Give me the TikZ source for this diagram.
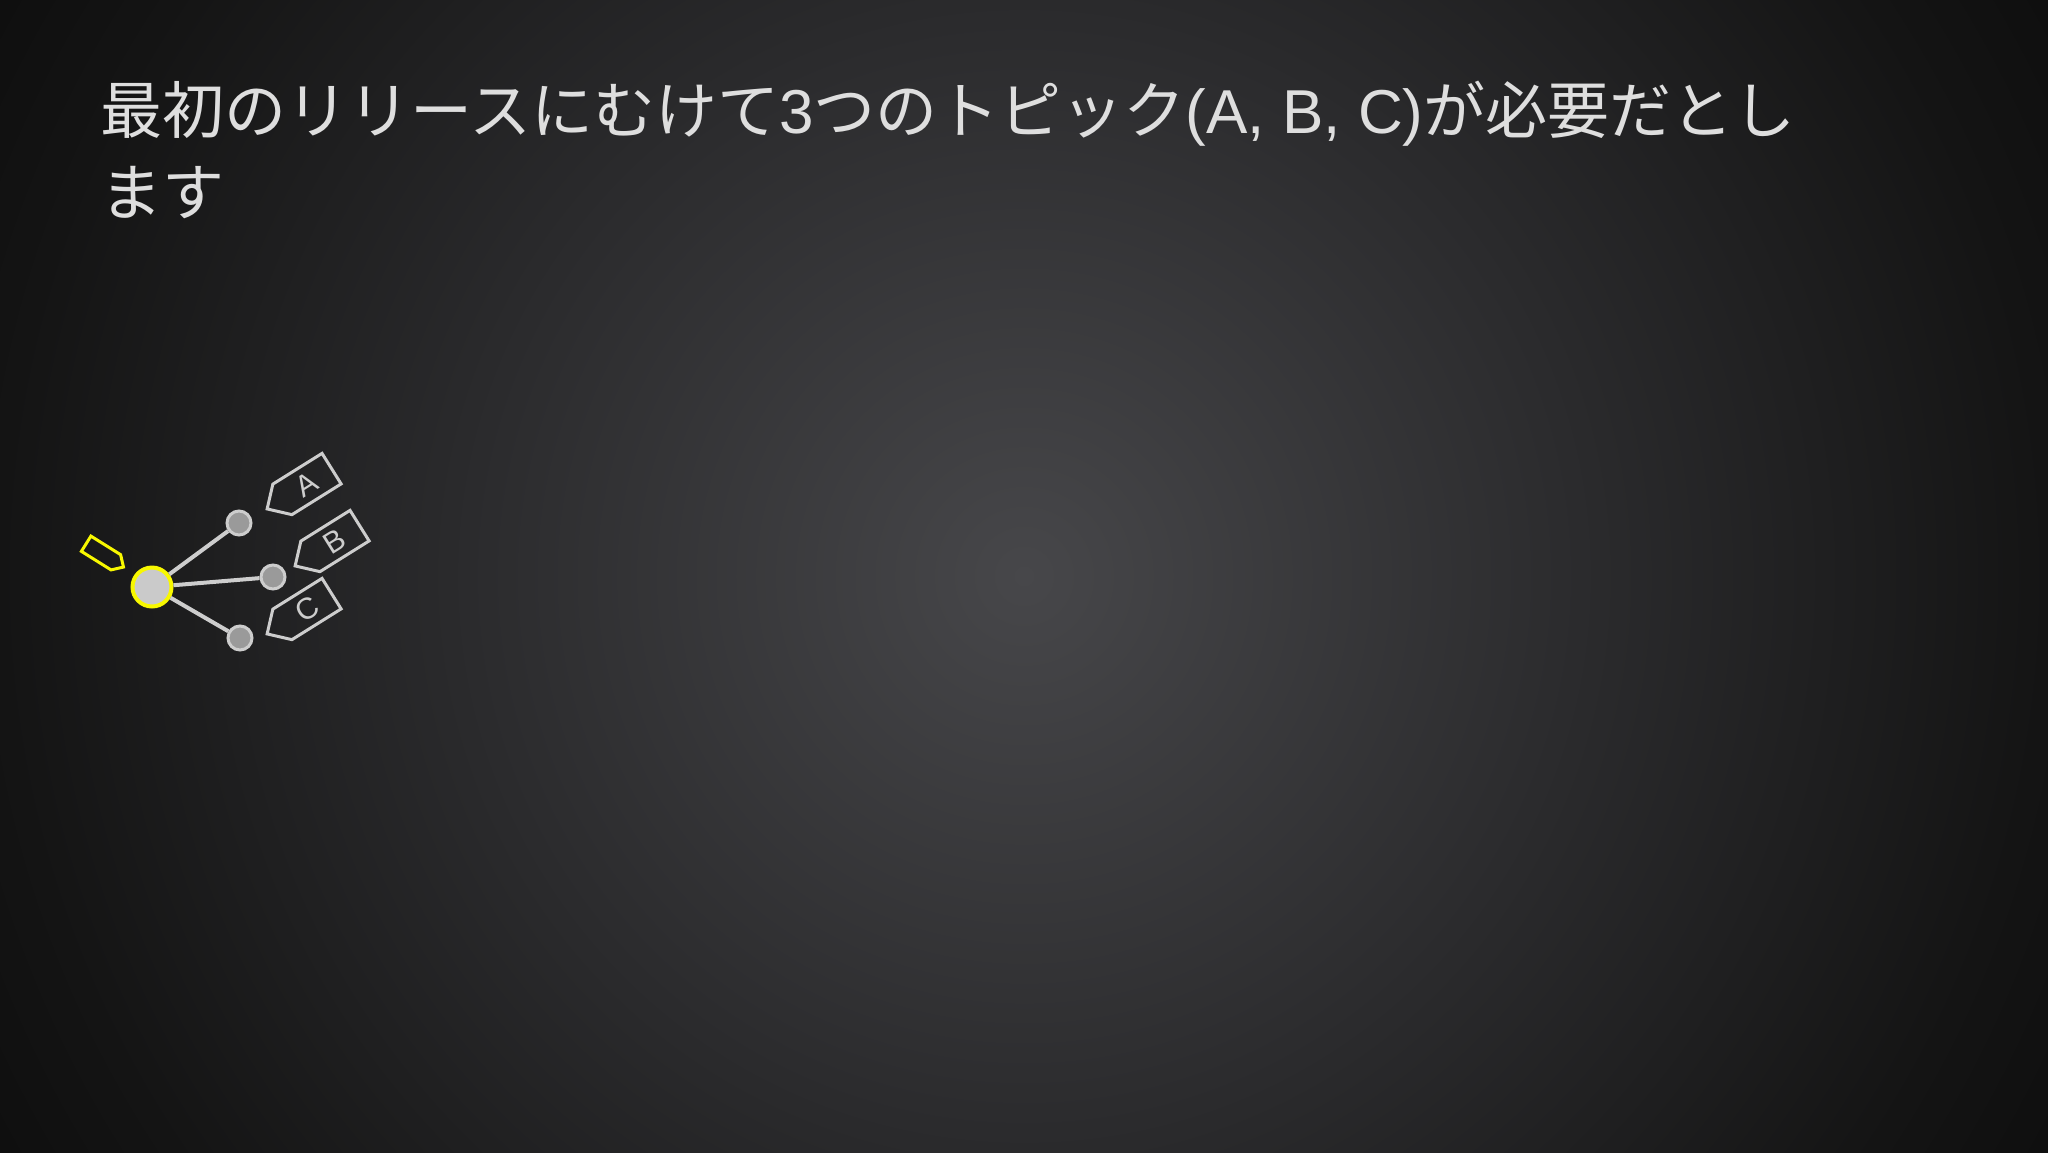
\documentclass[tikz,border=0pt]{standalone}
\usepackage{fontspec}
\setmainfont{Liberation Sans}
\newfontfamily\cjk{Noto Sans CJK JP}
\newfontfamily\lat{Liberation Sans}
\usetikzlibrary{shapes.symbols}
\definecolor{bgin}{HTML}{47474A}
\definecolor{bgmid}{HTML}{2A2A2C}
\definecolor{bgout}{HTML}{141414}
\definecolor{bgcorner}{HTML}{0E0E0E}
\definecolor{titlecol}{HTML}{DEDEDE}
\definecolor{linecol}{HTML}{CDCDCD}
\definecolor{dotfill}{HTML}{9A9A9A}
\definecolor{mainfill}{HTML}{CACACA}
\definecolor{hl}{HTML}{F8F800}
\pgfdeclareradialshading{bgshade}{\pgfpoint{0bp}{0bp}}{color(0bp)=(bgin); color(12bp)=(bgmid); color(21.35bp)=(bgout); color(25bp)=(bgcorner); color(50bp)=(bgcorner)}
\tikzset{
  titletext/.style={text=titlecol, font=\cjk\fontsize{31pt}{31pt}\selectfont, inner sep=0pt, anchor=base west},
  maincommit/.style={circle, draw=hl, fill=mainfill, line width=2pt, minimum size=19.5pt, inner sep=0pt},
  commit/.style={circle, draw=linecol, fill=dotfill, line width=1.5pt, minimum size=12pt, inner sep=0pt},
  edge/.style={draw=linecol, line width=2pt},
  tagbox/.style={signal, signal to=west, signal from=nowhere, draw=linecol, line width=1.5pt, text=linecol,
    minimum width=38pt, minimum height=18pt, inner sep=1pt, font=\fontsize{15pt}{15pt}\selectfont, rotate=32},
  headtag/.style={signal, signal to=east, signal from=nowhere, draw=hl, line width=1.5pt,
    minimum width=22pt, minimum height=9pt, inner sep=0pt, rotate=-32}
}
\begin{document}
\begin{tikzpicture}[x=0.5pt,y=-0.5pt]
\useasboundingbox (0,0) rectangle (2048,1152);
\begin{scope}
  \clip (0,0) rectangle (2048,1152);
  \shade[shading=bgshade] (1024,576) circle[radius=600pt];
\end{scope}
\node[titletext] (t1) at (100,133) {最初のリリースにむけて{\lat 3}つのトピック{\lat (A, B, C)}が必要だとし};
\node[titletext] (t2) at (100,215) {ます};
\node[maincommit] (m) at (152,587) {};
\node[commit] (ca) at (239,523) {};
\node[commit] (cb) at (273,577) {};
\node[commit] (cc) at (240,638) {};
\draw[edge] (m) -- (ca);
\draw[edge] (m) -- (cb);
\draw[edge] (m) -- (cc);
\node[tagbox] (ta) at (307,484) {A};
\node[tagbox] (tb) at (335,541) {B};
\node[tagbox] (tc) at (307,609) {C};
\node[headtag] (h) at (101,553) {};
\end{tikzpicture}
\end{document}
